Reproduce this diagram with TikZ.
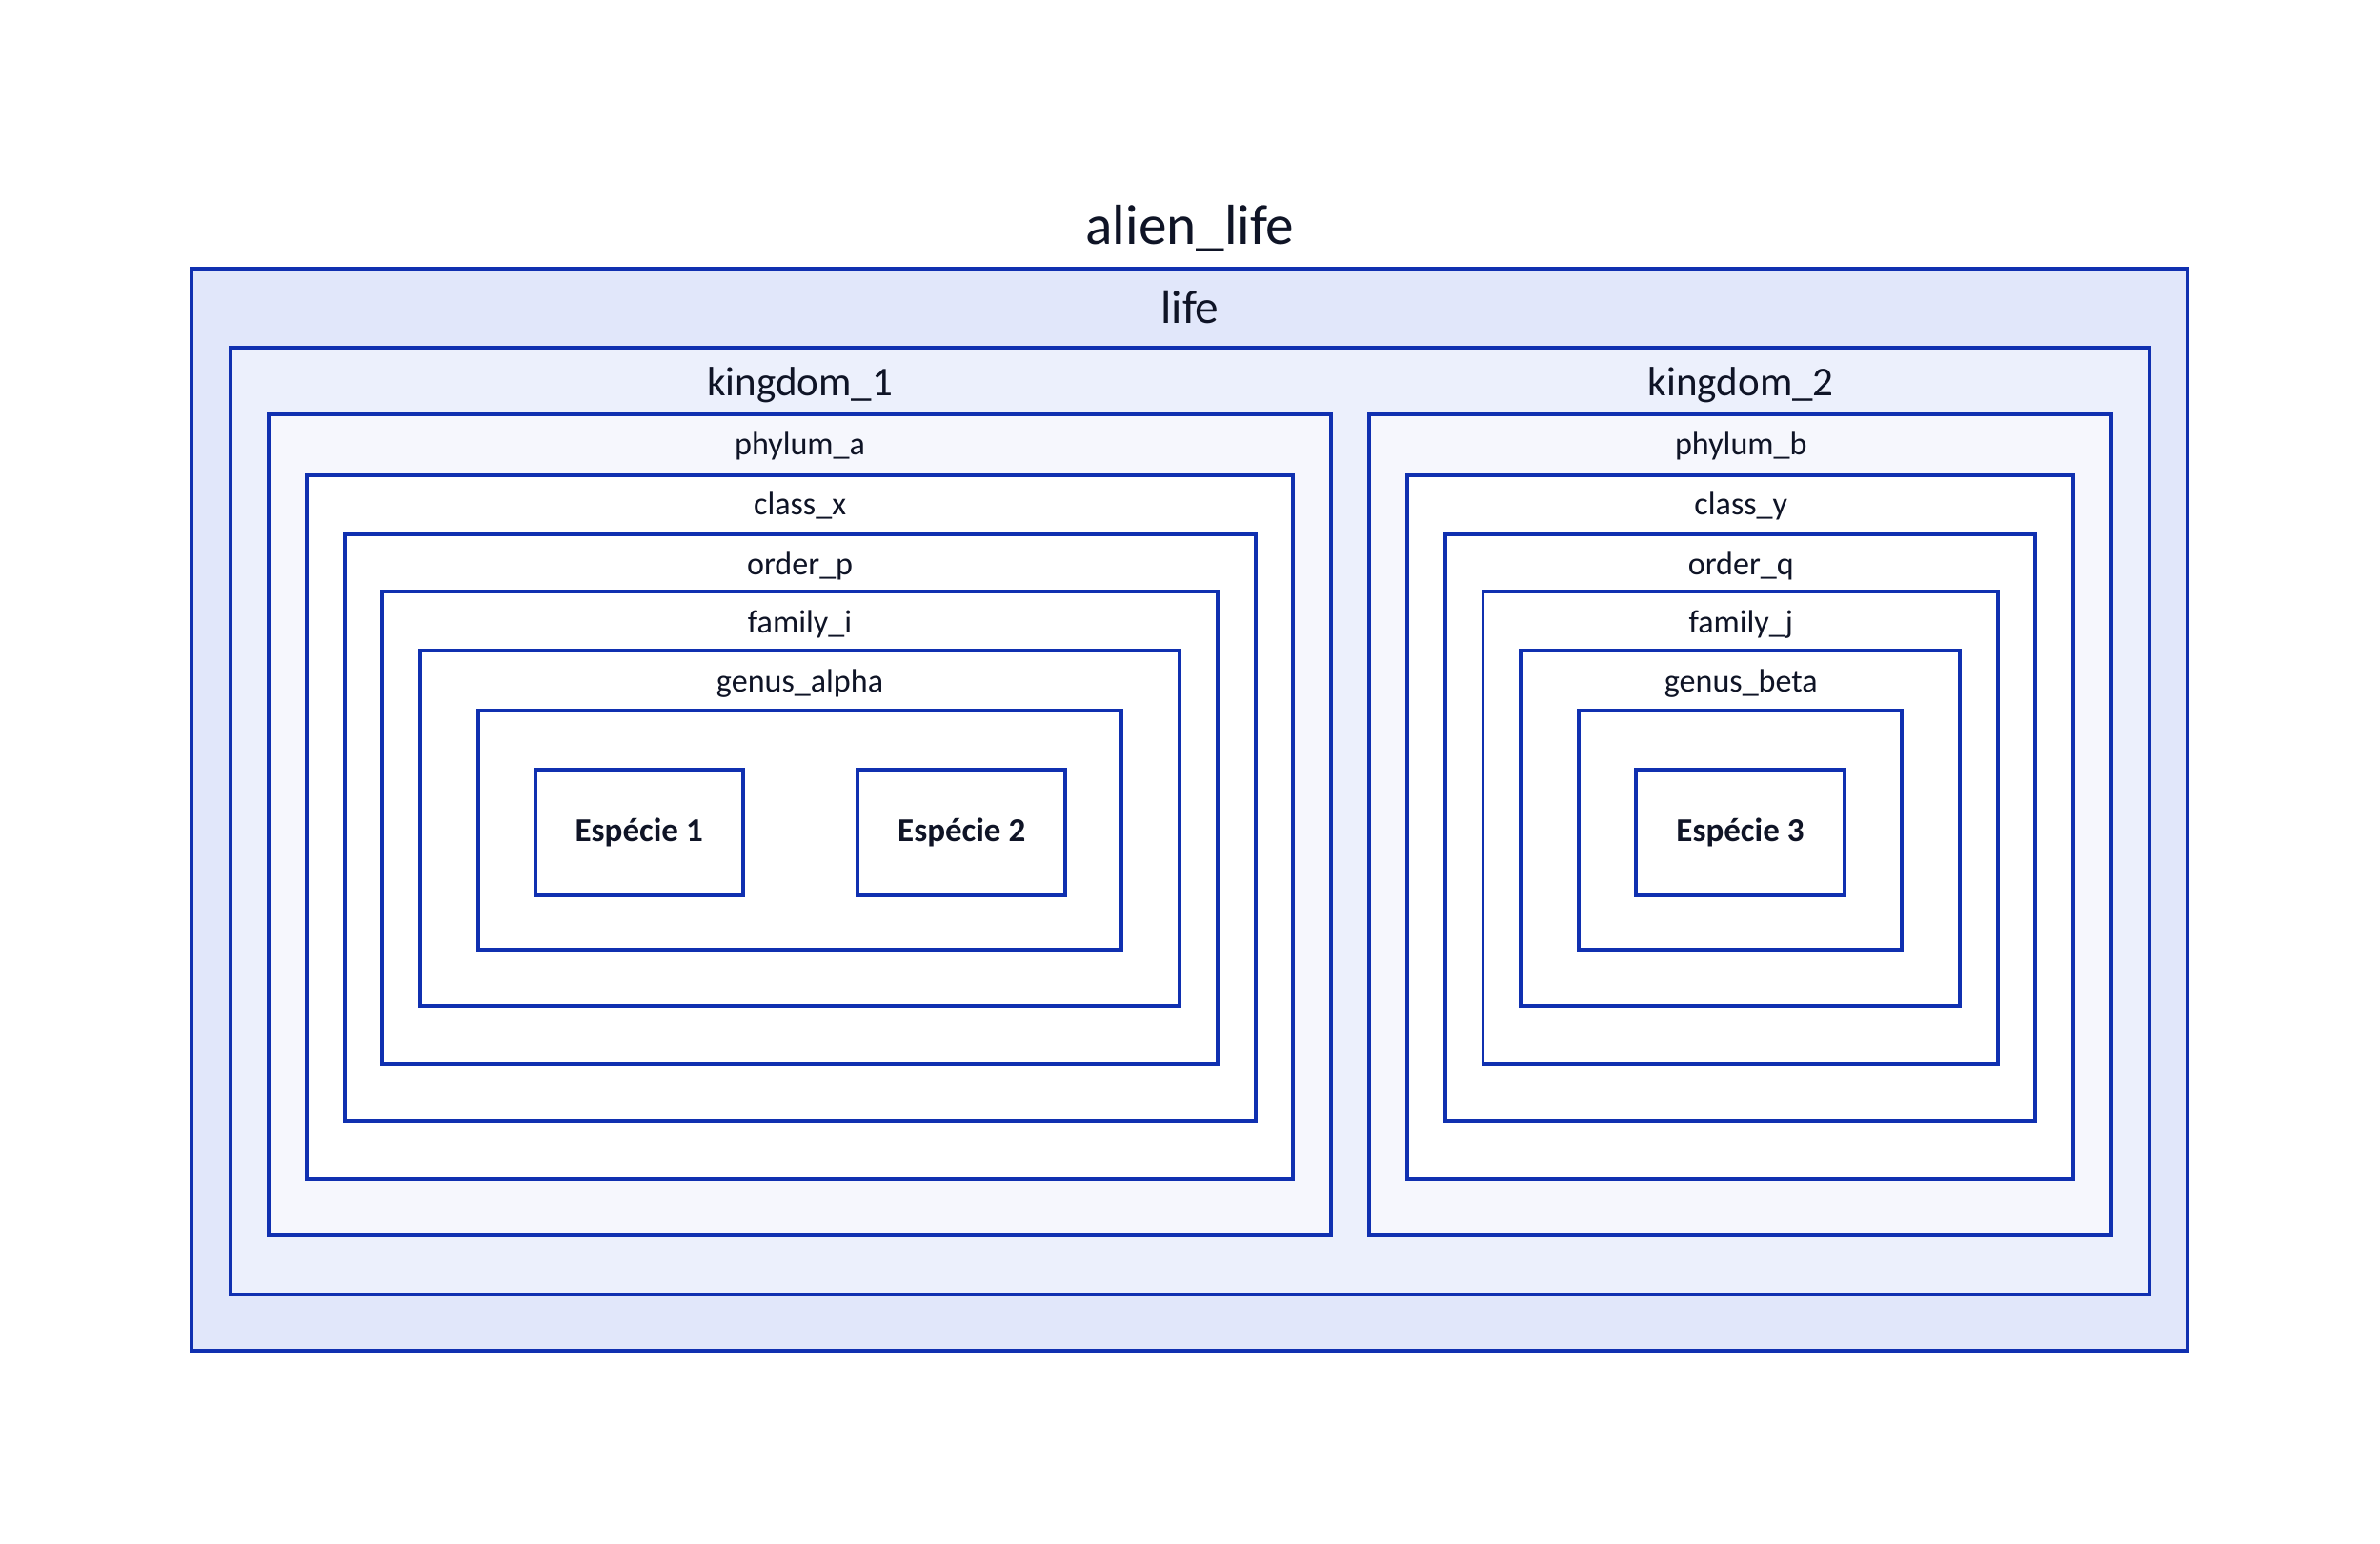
\documentclass[tikz,border=0pt]{standalone}
\usepackage{fontspec}
\setmainfont{Carlito}
\usetikzlibrary{fit}

\definecolor{edgeblue}{RGB}{16,48,176}
\definecolor{fillA}{RGB}{225,231,250}
\definecolor{fillB}{RGB}{236,240,252}
\definecolor{fillC}{RGB}{246,247,253}
\definecolor{ink}{RGB}{15,20,38}

\tikzset{
  cluster/.style={draw=edgeblue, line width=1.25pt, inner sep=0pt, outer sep=0pt, fill=white},
  species/.style={draw=edgeblue, line width=1.25pt, inner sep=0pt, outer sep=0pt, fill=white,
    minimum width=68.5pt, minimum height=41.5pt, text=ink,
    font=\bfseries\fontsize{11}{13}\selectfont},
  lbl/.style={anchor=base, inner sep=0pt, text=ink},
  huge lbl/.style={lbl, font=\fontsize{18.6}{22}\selectfont},
  big lbl/.style={lbl, font=\fontsize{15.5}{18}\selectfont},
  mid lbl/.style={lbl, font=\fontsize{13.5}{16}\selectfont},
  small lbl/.style={lbl, font=\fontsize{10.7}{13}\selectfont},
}

\begin{document}
\begin{tikzpicture}[x=0.5pt, y=-0.5pt]
  \useasboundingbox (0,0) rectangle (1568,1017);

  % outer containers
  \node[cluster, fill=fillA, fit={(126,177) (1441,890)}] (alien) {};
  \node[cluster, fill=fillB, fit={(152,229) (1416,853)}] (life) {};

  % kingdom 1 branch
  \node[cluster, fill=fillC, fit={(177,273) (877,814)}] (k1) {};
  \node[cluster, fit={(202,313) (852,777)}] (pa) {};
  \node[cluster, fit={(227,352) (827,739)}] (cx) {};
  \node[cluster, fit={(252,390) (802,701)}] (op) {};
  \node[cluster, fit={(277,429) (777,663)}] (fi) {};
  \node[cluster, fit={(315,468) (739,626)}] (ga) {};
  \node[species] (s1) at (421,548.5) {Espécie 1};
  \node[species] (s2) at (633.5,548.5) {Espécie 2};

  % kingdom 2 branch
  \node[cluster, fill=fillC, fit={(902,273) (1391,814)}] (k2) {};
  \node[cluster, fit={(927,313) (1366,777)}] (pb) {};
  \node[cluster, fit={(952,352) (1341,739)}] (cy) {};
  \node[cluster, fit={(977,390) (1316,701)}] (oq) {};
  \node[cluster, fit={(1002,429) (1291,663)}] (fj) {};
  \node[cluster, fit={(1040,468) (1253,626)}] (gb) {};
  \node[species] (s3) at (1146.5,548.5) {Espécie 3};

  % titles
  \node[huge lbl] at (784,161) {alien\_life};
  \node[big lbl] at (784,213) {life};
  \node[mid lbl] at (527,261) {kingdom\_1};
  \node[mid lbl] at (1147,261) {kingdom\_2};

  \node[small lbl] at (527,300) {phylum\_a};
  \node[small lbl] at (527,339.5) {class\_x};
  \node[small lbl] at (527,378.5) {order\_p};
  \node[small lbl] at (527,417) {family\_i};
  \node[small lbl] at (527,456) {genus\_alpha};

  \node[small lbl] at (1147,300) {phylum\_b};
  \node[small lbl] at (1147,339.5) {class\_y};
  \node[small lbl] at (1147,378.5) {order\_q};
  \node[small lbl] at (1147,417) {family\_j};
  \node[small lbl] at (1147,456) {genus\_beta};
\end{tikzpicture}
\end{document}
